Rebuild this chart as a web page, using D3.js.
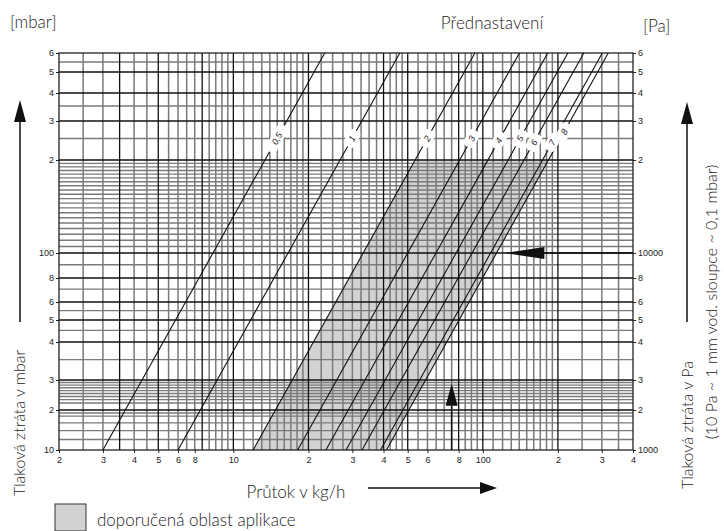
<!DOCTYPE html>
<html><head><meta charset="utf-8">
<script src="https://cdn.jsdelivr.net/npm/d3@7"></script>
<style>
body{margin:0;background:#fff;}
.thin{font-family:Lato,"Open Sans",sans-serif;font-weight:300;fill:#222;}
.tick{font-family:"Liberation Sans",Arial,sans-serif;font-size:9px;fill:#222;}
</style></head>
<body><svg id="chart" width="724" height="531"></svg>
<script>
// ---- data ----
const xTickValues = [2,3,4,5,6,7,10,20,30,40,50,60,80,100,200,300,400];
const xTickLabels = ["2","3","4","5","6","8","10","2","3","4","5","6","8","100","2","3","4"];
const yTickValues = [10,20,30,40,50,60,80,100,200,300,400,500,600];
const yTickLabelsLeft = ["10","2","3","4","5","6","8","100","2","3","4","5","6"];
const yTickLabelsRight = ["1000","2","3","4","5","6","8","10000","2","3","4","5","6"];
const xGridGray = [2.5,3,4,4.5,5.5,6,6.5,7,8,8.5,9,9.5,11,12,13,14,15,16,17,18,19,22.5,25,27.5,30,32.5,35,37.5,42.5,45,47.5,55,60,65,70,75,85,90,95,110,120,130,140,150,160,170,180,190,250,300,350];
const xGridDark = [3.5,5,7.5,10,20,40,50,80,100,200];
const yGridGray = [12,14,16,18,19,22,23,24,25,26,27,28,29,35,45,55,70,90,105,110,115,120,125,130,135,140,145,150,155,160,165,170,175,180,185,190,195,250,350,550];
const yGridDark = [20,30,40,50,60,80,100,200,300,400,500];
const presetNames = ["0,5","1","2","3","4","5","6","7","8"];
const presetFlowAt10mbar = [3.0,6.0,12.0,18.1,23.5,28.3,32.8,38.9,41.1]; // kg/h at 10 mbar
const presetLabelPressure = [250,250,250,250,245,250,240,240,268];
const recommendedLeft = "2", recommendedRight = "8";
const recommendedPressure = [10,200];
const readFlow = 75, readPressure = 28.5, arrowPressure = 100, arrowTipFlow = 122;

// ---- layout ----
const svg = d3.select("#chart");
const L=59, R=633, T=53, B=450;
const x = d3.scaleLog().domain([2,400]).range([L,R]);
// the original drawing's pressure axis is not uniformly logarithmic: piecewise log scale through its labelled ticks
const y = d3.scaleLog().domain(yTickValues).range([450,410,380,342,320,302,278,253,160,121,93,72,53]);
const pMin=10, pMax=600;
const flowAt = (q10,p)=> q10*Math.sqrt(p/10);   // quadratic valve characteristic
function lineEnds(q10){ return [[x(flowAt(q10,pMin)), y(pMin)],[x(flowAt(q10,pMax)), y(pMax)]]; }
function xOnLine(q10, py){ const [a,b]=lineEnds(q10); return a[0]+(b[0]-a[0])*(py-a[1])/(b[1]-a[1]); }

// shaded recommended area
const qL = presetFlowAt10mbar[presetNames.indexOf(recommendedLeft)];
const qR = presetFlowAt10mbar[presetNames.indexOf(recommendedRight)];
const yb = y(recommendedPressure[0]), yt = y(recommendedPressure[1]);
svg.append("polygon").attr("points",[[xOnLine(qL,yb),yb],[xOnLine(qL,yt),yt],[xOnLine(qR,yt),yt],[xOnLine(qR,yb),yb]].map(p=>p.join(",")).join(" "))
  .attr("fill","#d2d2d2");

// grid
const g = svg.append("g");
g.selectAll(".vg").data(xGridGray).join("line").attr("x1",d=>x(d)).attr("x2",d=>x(d)).attr("y1",T).attr("y2",B).attr("stroke","#7a7a7a").attr("stroke-width",1.5);
g.selectAll(".hg").data(yGridGray).join("line").attr("class","hg").attr("y1",d=>y(d)).attr("y2",d=>y(d)).attr("x1",L).attr("x2",R).attr("stroke","#7a7a7a").attr("stroke-width",1.4);
g.selectAll(".vd").data(xGridDark).join("line").attr("class","vd").attr("x1",d=>x(d)).attr("x2",d=>x(d)).attr("y1",T).attr("y2",B).attr("stroke","#111").attr("stroke-width",1.3);
g.selectAll(".hd").data(yGridDark).join("line").attr("class","hd").attr("y1",d=>y(d)).attr("y2",d=>y(d)).attr("x1",L).attr("x2",R).attr("stroke","#111").attr("stroke-width",1.3);
svg.append("rect").attr("x",L).attr("y",T).attr("width",R-L).attr("height",B-T).attr("fill","none").attr("stroke","#222").attr("stroke-width",1.3);

// axes
const xAxis = d3.axisBottom(x).tickValues(xTickValues).tickFormat((d,i)=>xTickLabels[i]).tickSize(3).tickPadding(4);
const ax = svg.append("g").attr("transform",`translate(0,${B})`).call(xAxis);
const yl = svg.append("g").attr("transform",`translate(${L},0)`).call(d3.axisLeft(y).tickValues(yTickValues).tickFormat((d,i)=>yTickLabelsLeft[i]).tickSize(3).tickPadding(2));
const yr = svg.append("g").attr("transform",`translate(${R},0)`).call(d3.axisRight(y).tickValues(yTickValues).tickFormat((d,i)=>yTickLabelsRight[i]).tickSize(3).tickPadding(2));
[ax,yl,yr].forEach(a=>{a.select(".domain").remove(); a.selectAll("text").attr("class","tick"); a.selectAll("line").attr("stroke","#222");});

// preset lines
const lineGen = d3.line();
svg.append("g").selectAll("path").data(presetFlowAt10mbar).join("path")
  .attr("d",d=>lineGen(lineEnds(d))).attr("stroke","#111").attr("stroke-width",1.1).attr("fill","none");
// labels on the lines
const ang = -Math.atan2(y(pMin)-y(pMax), x(flowAt(1,pMax))-x(flowAt(1,pMin)))*180/Math.PI;
const lab = svg.append("g").selectAll("g").data(presetNames).join("g")
  .attr("transform",(d,i)=>{const py=y(presetLabelPressure[i]); return `translate(${xOnLine(presetFlowAt10mbar[i],py)},${py}) rotate(${ang})`;});
lab.append("rect").attr("x",d=>-(d.length*3+6)).attr("y",-6).attr("width",d=>d.length*6+12).attr("height",12).attr("rx",4).attr("fill","#fff");
lab.append("text").attr("text-anchor","middle").attr("dy","0.35em").attr("font-family","Liberation Sans,Arial,sans-serif").attr("font-style","italic").attr("font-size",9).attr("fill","#222").text(d=>d);

// arrows
function arrow(x1,y1,x2,y2,hl,hw){
  const a=Math.atan2(y2-y1,x2-x1), bx=x2-hl*Math.cos(a), by=y2-hl*Math.sin(a);
  svg.append("line").attr("x1",x1).attr("y1",y1).attr("x2",bx).attr("y2",by).attr("stroke","#111").attr("stroke-width",1.5);
  svg.append("polygon").attr("points",[[x2,y2],[bx-hw*Math.sin(a),by+hw*Math.cos(a)],[bx+hw*Math.sin(a),by-hw*Math.cos(a)]].map(p=>p.join(",")).join(" ")).attr("fill","#111");
}
arrow(R, y(arrowPressure), x(arrowTipFlow), y(arrowPressure), 40, 6);
arrow(x(readFlow), B, x(readFlow), y(readPressure), 22, 6);
arrow(20, 322, 20, 100, 22, 6);
arrow(687, 322, 687, 102, 22, 6);
arrow(368, 488, 497, 488, 17, 6);

// titles
svg.append("text").attr("class","thin").attr("x",10).attr("y",28).attr("font-size",17).text("[mbar]");
svg.append("text").attr("class","thin").attr("x",643).attr("y",32).attr("font-size",17).text("[Pa]");
svg.append("text").attr("class","thin").attr("x",492).attr("y",29).attr("text-anchor","middle").attr("font-size",17).text("Přednastavení");
svg.append("text").attr("class","thin").attr("x",296).attr("y",498).attr("text-anchor","middle").attr("font-size",17).text("Průtok v kg/h");
svg.append("text").attr("class","thin").attr("transform","translate(25,423) rotate(-90)").attr("text-anchor","middle").attr("font-size",16).text("Tlaková ztráta v mbar");
svg.append("text").attr("class","thin").attr("transform","translate(693,425) rotate(-90)").attr("text-anchor","middle").attr("font-size",16).text("Tlaková ztráta v Pa");
svg.append("text").attr("class","thin").attr("transform","translate(717,302) rotate(-90)").attr("text-anchor","middle").attr("font-size",16).text("(10 Pa ~ 1 mm vod. sloupce ~ 0,1 mbar)");
svg.append("rect").attr("x",55).attr("y",504).attr("width",31).attr("height",27).attr("fill","#d2d2d2").attr("stroke","#333").attr("stroke-width",1);
svg.append("text").attr("class","thin").attr("x",97).attr("y",526).attr("font-size",17).text("doporučená oblast aplikace");
</script></body></html>
